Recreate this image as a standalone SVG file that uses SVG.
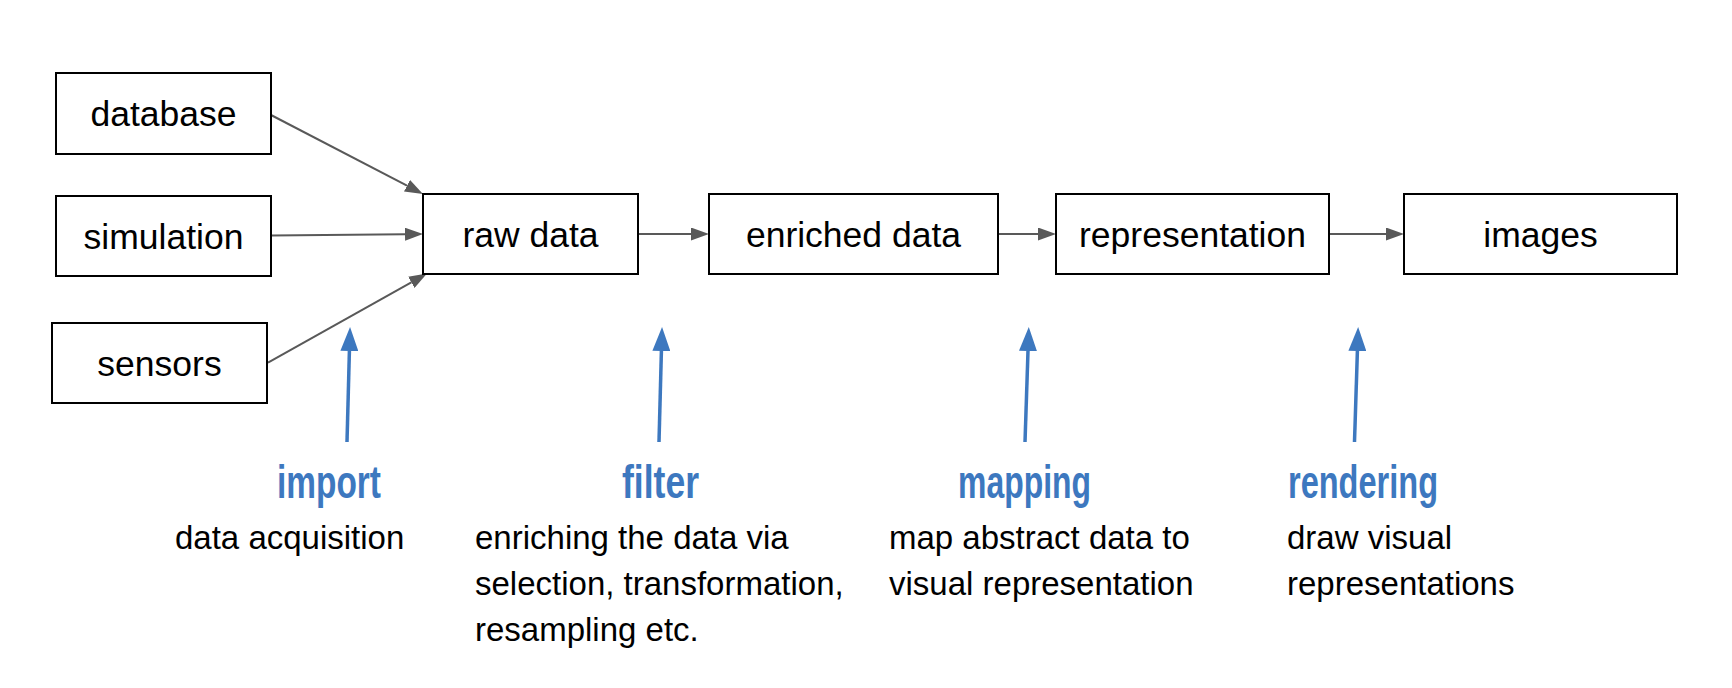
<svg xmlns="http://www.w3.org/2000/svg" width="1732" height="688" viewBox="0 0 1732 688">
<style>
.box{fill:#fff;stroke:#000;stroke-width:2}
.lbl{font-family:"Liberation Sans",Arial,sans-serif;font-size:35.5px;fill:#000;text-anchor:middle}
.con{stroke:#595959;stroke-width:2;fill:none}
.blue{stroke:#3d78bf;stroke-width:3.5;fill:none}
.hd{font-family:"Liberation Sans Narrow","Liberation Sans",sans-serif;font-weight:bold;font-size:47px;fill:#3d78bf;text-anchor:middle}
.desc{font-family:"Liberation Sans",Arial,sans-serif;font-size:33px;fill:#000}
</style>
<defs>
<marker id="ag" markerUnits="userSpaceOnUse" viewBox="0 0 18 13" refX="0" refY="6.5" markerWidth="18" markerHeight="13" orient="auto"><path d="M0,0 L18,6.5 L0,13 Z" fill="#595959"/></marker>
<marker id="ab" markerUnits="userSpaceOnUse" viewBox="0 0 24 18" refX="0" refY="9" markerWidth="24" markerHeight="18" orient="auto"><path d="M0,0 L24,9 L0,18 Z" fill="#3d78bf"/></marker>
</defs>
<rect width="1732" height="688" fill="#fff"/>
<g id="connectors">
<line class="con" x1="271" y1="115" x2="407" y2="185.7" marker-end="url(#ag)"/>
<line class="con" x1="271" y1="235.5" x2="405" y2="234.2" marker-end="url(#ag)"/>
<line class="con" x1="268" y1="362.7" x2="411.3" y2="282.3" marker-end="url(#ag)"/>
<line class="con" x1="638" y1="234" x2="691" y2="234" marker-end="url(#ag)"/>
<line class="con" x1="998" y1="234" x2="1038" y2="234" marker-end="url(#ag)"/>
<line class="con" x1="1329" y1="234" x2="1386" y2="234" marker-end="url(#ag)"/>
<line class="blue" x1="347" y1="442" x2="349.4" y2="351" marker-end="url(#ab)"/>
<line class="blue" x1="659" y1="442" x2="661.4" y2="351" marker-end="url(#ab)"/>
<line class="blue" x1="1025" y1="442" x2="1028" y2="351" marker-end="url(#ab)"/>
<line class="blue" x1="1354.5" y1="442" x2="1357.4" y2="351" marker-end="url(#ab)"/>
</g>
<g id="database"><rect class="box" x="56" y="73" width="215" height="81"/><text class="lbl" x="163.5" y="126">database</text></g>
<g id="simulation"><rect class="box" x="56" y="196" width="215" height="80"/><text class="lbl" x="163.5" y="248.5">simulation</text></g>
<g id="sensors"><rect class="box" x="52" y="323" width="215" height="80"/><text class="lbl" x="159.5" y="375.5">sensors</text></g>
<g id="raw-data"><rect class="box" x="423" y="194" width="215" height="80"/><text class="lbl" x="530.5" y="246.5">raw data</text></g>
<g id="enriched-data"><rect class="box" x="709" y="194" width="289" height="80"/><text class="lbl" x="853.5" y="246.5">enriched data</text></g>
<g id="representation"><rect class="box" x="1056" y="194" width="273" height="80"/><text class="lbl" x="1192.5" y="246.5">representation</text></g>
<g id="images"><rect class="box" x="1404" y="194" width="273" height="80"/><text class="lbl" x="1540.5" y="246.5">images</text></g>
<g id="import">
<text class="hd" x="329" y="498" textLength="104" lengthAdjust="spacingAndGlyphs">import</text>
<text class="desc" x="175" y="549">data acquisition</text>
</g>
<g id="filter">
<text class="hd" x="660.5" y="498" textLength="77" lengthAdjust="spacingAndGlyphs">filter</text>
<text class="desc" x="475" y="549">enriching the data via</text>
<text class="desc" x="475" y="595">selection, transformation,</text>
<text class="desc" x="475" y="641">resampling etc.</text>
</g>
<g id="mapping">
<text class="hd" x="1024.5" y="498" textLength="133" lengthAdjust="spacingAndGlyphs">mapping</text>
<text class="desc" x="889" y="549">map abstract data to</text>
<text class="desc" x="889" y="595">visual representation</text>
</g>
<g id="rendering">
<text class="hd" x="1363" y="498" textLength="150" lengthAdjust="spacingAndGlyphs">rendering</text>
<text class="desc" x="1287" y="549">draw visual</text>
<text class="desc" x="1287" y="595">representations</text>
</g>
</svg>
